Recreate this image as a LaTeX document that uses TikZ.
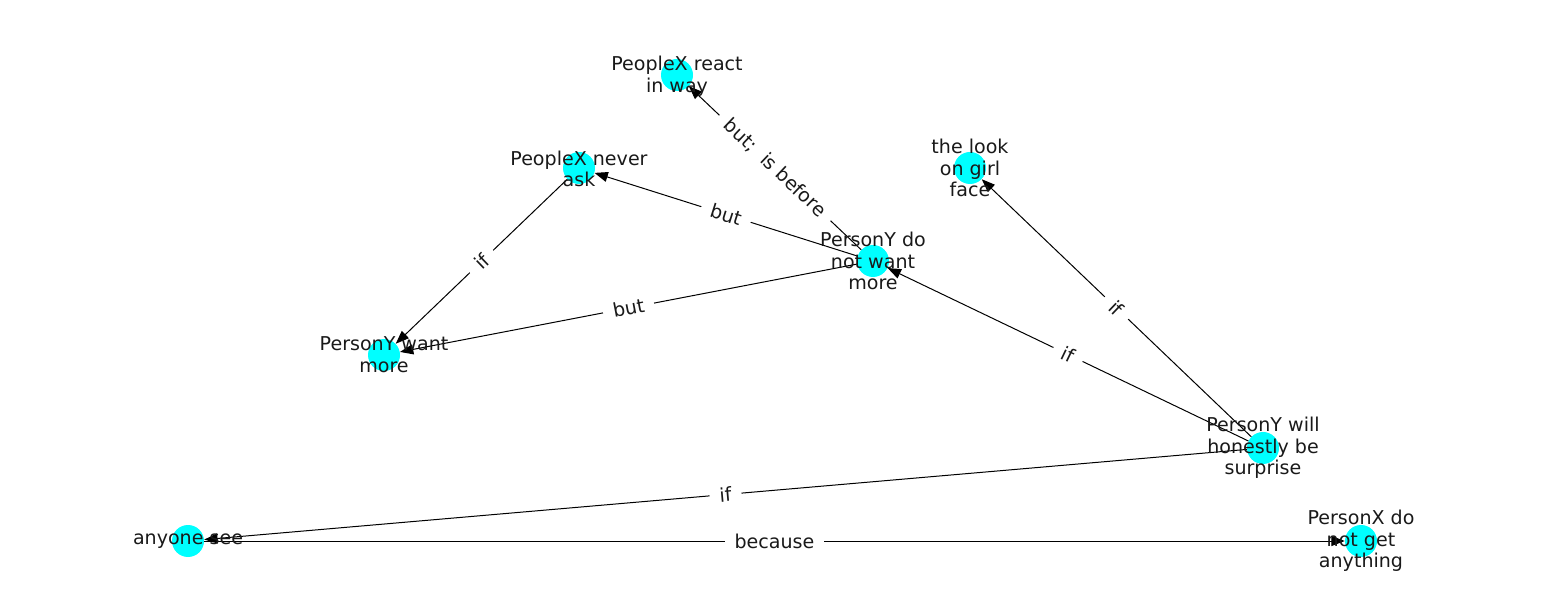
\documentclass[tikz,border=0pt]{standalone}
\usepackage{fontspec}
\setmainfont{DejaVu Sans}
\usetikzlibrary{arrows.meta}
\definecolor{nodecyan}{RGB}{0,255,255}
\begin{document}
\begin{tikzpicture}[x=0.75pt,y=-0.75pt,
  dot/.style={circle,fill=nodecyan,minimum size=24pt,inner sep=0pt},
  lab/.style={align=center,font=\fontsize{14.3}{16.3}\selectfont,text=black!90,inner sep=0pt},
  edge/.style={draw=black,line width=0.75pt,-{Triangle[length=10pt,width=7.5pt]}},
  elab/.style={fill=white,sloped,inner xsep=7.5pt,inner ysep=1pt,font=\fontsize{14.3}{16}\selectfont,text=black!90}]
\useasboundingbox (0,0) rectangle (1550,616);
% nodes
\node[dot] (react) at (677,75) {};
\node[dot] (ask) at (579,168) {};
\node[dot] (look) at (970,168) {};
\node[dot] (notwant) at (873,261) {};
\node[dot] (want) at (384,355) {};
\node[dot] (surprise) at (1263,448) {};
\node[dot] (see) at (188,541) {};
\node[dot] (get) at (1361,541) {};
% edges
\draw[edge] (notwant) -- node[elab] {but;~ is before} (react);
\draw[edge] (notwant) -- node[elab] {but} (ask);
\draw[edge] (notwant) -- node[elab] {but} (want);
\draw[edge] (ask) -- node[elab] {if} (want);
\draw[edge] (surprise) -- node[elab] {if} (look);
\draw[edge] (surprise) -- node[elab] {if} (notwant);
\draw[edge] (surprise) -- node[elab] {if} (see);
\draw[edge] (see) -- node[elab] {because} (get);
% labels
\node[lab] (treact) at (677,76) {PeopleX react\\in way};
\node[lab] (task) at (579,169) {PeopleX never\\ask};
\node[lab] (tlook) at (970,168) {the look\\on girl\\face};
\node[lab] (tnotwant) at (873,261) {PersonY do\\not want\\more};
\node[lab] (twant) at (384,355) {PersonY want\\more};
\node[lab] (tsurprise) at (1263,448) {PersonY will\\honestly be\\surprise};
\node[lab] (tsee) at (see) {anyone see};
\node[lab] (tget) at (1361,541) {PersonX do\\not get\\anything};
\end{tikzpicture}
\end{document}
